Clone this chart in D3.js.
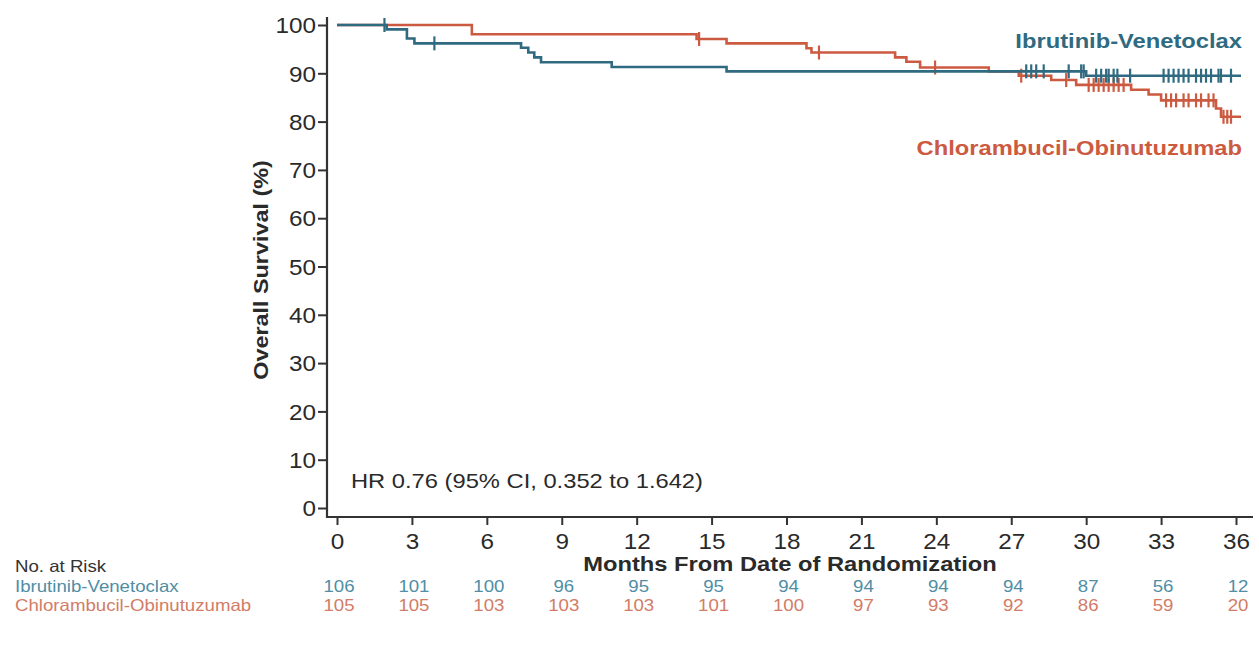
<!DOCTYPE html>
<html><head><meta charset="utf-8">
<script src="https://cdn.jsdelivr.net/npm/d3@7"></script>
<style>html,body{margin:0;padding:0;background:#fff;}svg{display:block;}</style>
</head><body><svg id="c" width="1259" height="649"></svg>
<script>
// ---- data ----
const months = [0,3,6,9,12,15,18,21,24,27,30,33,36];
const yTicks = [0,10,20,30,40,50,60,70,80,90,100];
const ivSteps = [[0,100],[1.99,99.1],[2.8,97.2],[3.1,96.2],[7.37,95.3],[7.66,94.3],[7.9,93.3],[8.17,92.3],[11.0,91.3],[15.6,90.4],[30.0,89.5],[36.2,89.5]];
const ivCensor = [1.9,3.9,27.6,27.8,28.0,28.3,29.3,29.8,29.9,30.4,30.6,30.8,30.9,31.1,31.25,31.76,33.1,33.3,33.5,33.7,33.9,34.1,34.4,34.6,34.8,35.0,35.3,35.4,35.8];
const coSteps = [[0,100],[5.4,98.1],[14.4,97.1],[15.6,96.2],[18.8,95.2],[19.0,94.3],[22.35,93.3],[22.8,92.4],[23.35,91.2],[26.1,90.4],[27.3,89.5],[28.6,88.6],[29.6,87.6],[31.8,86.6],[32.5,85.6],[33.0,84.4],[35.2,82.7],[35.4,81.0],[36.2,81.0]];
const coCensor = [14.5,19.3,23.95,27.4,29.2,30.1,30.3,30.5,30.7,30.9,31.1,31.3,31.5,33.2,33.4,33.6,33.9,34.1,34.4,34.6,34.9,35.1,35.5,35.65,35.8];
const ivRisk = [106,101,100,96,95,95,94,94,94,94,87,56,12];
const coRisk = [105,105,103,103,103,101,100,97,93,92,86,59,20];
const ivName = "Ibrutinib-Venetoclax";
const coName = "Chlorambucil-Obinutuzumab";

// ---- drawing ----
const SX = 1.13;
const FONT = "'Liberation Sans', Arial, Helvetica, sans-serif";
const BLUE = "#2f6a80", RED = "#cc5a40";
const BLUE_T = "#4f8ea5", RED_T = "#d27c66";
const svg = d3.select("#c").style("font-family", FONT);
svg.append("rect").attr("width",1259).attr("height",649).attr("fill","#fff");

const x = d3.scaleLinear().domain([0,36]).range([337,1236]);
const y = d3.scaleLinear().domain([0,100]).range([508,25]);

function txt(px, py, s, o={}) {
  return svg.append("text")
    .attr("transform", `translate(${px},${py}) ${o.rot ? "rotate(-90)" : ""} scale(${SX},1)`)
    .attr("text-anchor", o.anchor || "start")
    .attr("font-size", o.size || 21)
    .attr("font-weight", o.bold ? "bold" : "normal")
    .attr("fill", o.fill || "#2a2a2a")
    .text(s);
}

// axes
const axisColor = "#333";
const gy = svg.append("g").attr("transform","translate(327,0)")
  .call(d3.axisLeft(y).tickValues(yTicks).tickSize(9).tickSizeOuter(0).tickPadding(2));
gy.select(".domain").remove();
gy.selectAll("line").attr("stroke",axisColor).attr("stroke-width",2);
gy.selectAll("text").attr("font-size",21.5).attr("font-family",FONT).attr("fill","#2a2a2a")
  .attr("transform",`scale(${SX},1)`).attr("x",-11/SX).attr("dy","0.36em");

const gx = svg.append("g").attr("transform","translate(0,517)")
  .call(d3.axisBottom(x).tickValues(months).tickSize(8).tickSizeOuter(0).tickPadding(9));
gx.select(".domain").remove();
gx.selectAll("line").attr("stroke",axisColor).attr("stroke-width",2);
gx.selectAll("text").attr("font-size",21.5).attr("font-family",FONT).attr("fill","#2a2a2a")
  .attr("transform",`scale(${SX},1)`);

svg.append("line").attr("x1",327).attr("x2",327).attr("y1",17).attr("y2",518).attr("stroke",axisColor).attr("stroke-width",2.2);
svg.append("line").attr("x1",326).attr("x2",1253).attr("y1",517).attr("y2",517).attr("stroke",axisColor).attr("stroke-width",2.2);

// curves
const line = d3.line().x(d=>x(d[0])).y(d=>y(d[1])).curve(d3.curveStepAfter);
function surv(steps, t){ let v=steps[0][1]; for(const s of steps){ if(s[0]<=t) v=s[1]; } return v; }
function drawCurve(steps, cens, color){
  const g = svg.append("g");
  g.append("path").datum(steps).attr("d",line).attr("fill","none").attr("stroke",color).attr("stroke-width",2.6);
  g.selectAll("line.c").data(cens).enter().append("line")
    .attr("x1",d=>x(d)).attr("x2",d=>x(d))
    .attr("y1",d=>y(surv(steps,d))-7).attr("y2",d=>y(surv(steps,d))+7)
    .attr("stroke",color).attr("stroke-width",2.2);
}
drawCurve(coSteps, coCensor, RED);
drawCurve(ivSteps, ivCensor, BLUE);

// labels
txt(1242, 48, ivName, {anchor:"end", bold:true, fill:BLUE, size:21});
txt(1242, 155, coName, {anchor:"end", bold:true, fill:RED, size:21});
txt(351, 488, "HR 0.76 (95% CI, 0.352 to 1.642)", {size:21});
txt(790, 571, "Months From Date of Randomization", {anchor:"middle", bold:true, size:21});
txt(268, 270, "Overall Survival (%)", {anchor:"middle", bold:true, size:20.7, rot:true});

// risk table
txt(15, 572, "No. at Risk", {size:16.5, fill:"#333"});
txt(15, 592, ivName, {size:16.5, fill:BLUE_T});
txt(15, 611, coName, {size:16.5, fill:RED_T});
months.forEach((m,i)=>{
  txt(x(m)+2, 592, String(ivRisk[i]), {anchor:"middle", size:16.5, fill:BLUE_T});
  txt(x(m)+2, 611, String(coRisk[i]), {anchor:"middle", size:16.5, fill:RED_T});
});
</script></body></html>
